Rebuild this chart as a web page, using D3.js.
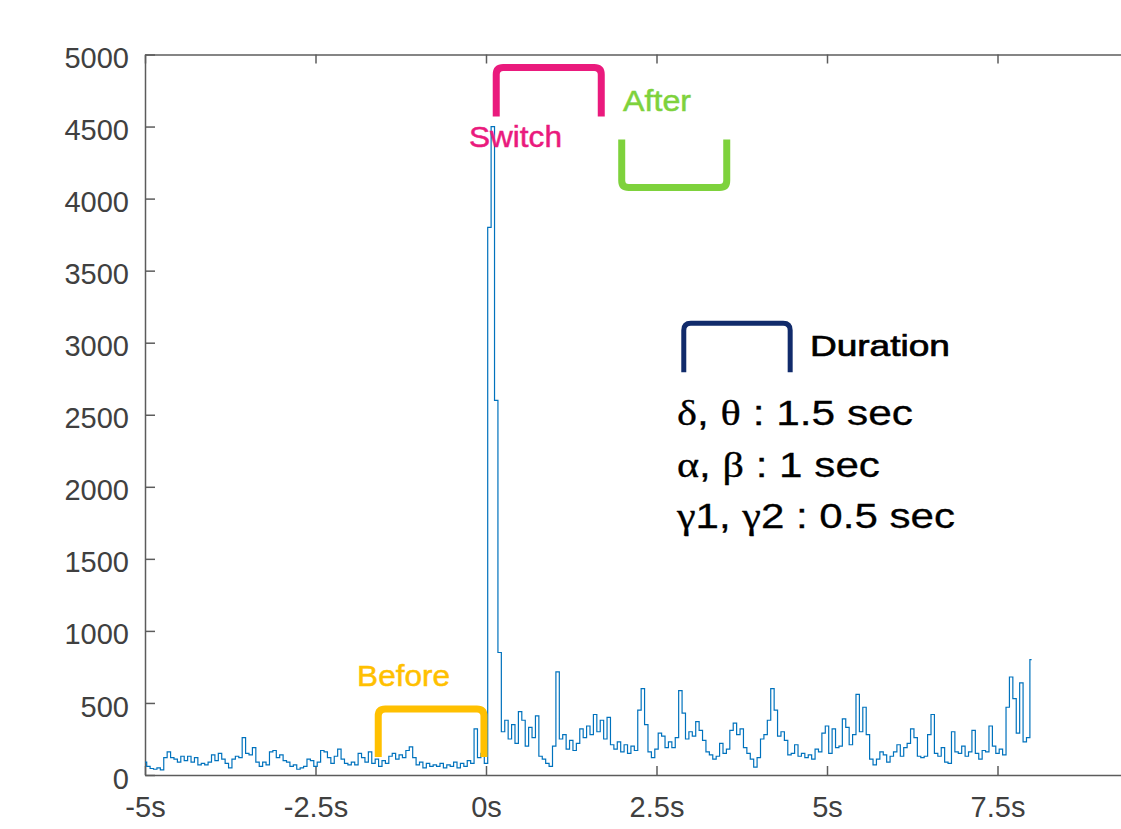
<!DOCTYPE html>
<html>
<head>
<meta charset="utf-8">
<script src="https://cdn.jsdelivr.net/npm/d3@7"></script>
<style>
  html, body { margin: 0; padding: 0; background: #fff; }
  svg { display: block; font-family: "Liberation Sans", Arial, sans-serif; }
</style>
</head>
<body>
<svg id="chart"></svg>
<script>
// sampled signal, one value every 0.05 s starting at -5 s
const sampleStart = -5;
const sampleStep = 0.05;
const signal = [
  // -5 .. -2.5 s
  90, 60, 45, 40, 50, 35, 120, 160, 120, 110, 90, 130, 100, 130, 90, 120, 70, 80, 70, 90,
  140, 100, 150, 110, 80, 50, 110, 130, 120, 260, 150, 140, 190, 90, 60, 90, 70, 160, 170, 120,
  140, 100, 90, 60, 70, 40, 50, 60, 110, 100, 60,
  // -2.45 .. 0 s
  90, 170, 160, 120, 80, 130, 180, 110, 80, 70, 90, 70, 150, 120, 90, 160, 80, 110, 60, 100,
  80, 130, 150, 110, 140, 120, 170, 195, 120, 70, 90, 50, 80, 60, 70, 60, 80, 50, 70, 60,
  90, 50, 80, 60, 100, 80, 320, 120, 150, 80,
  // 0.05 .. 2.5 s
  3800, 4500, 2600, 850, 300, 380, 250, 350, 220, 440, 380, 200, 330, 260, 410, 130, 110, 80, 60, 200,
  715, 250, 280, 180, 240, 170, 220, 320, 260, 340, 280, 420, 300, 380, 250, 400, 210, 180, 230, 160,
  210, 150, 200, 170, 450, 600, 350, 160, 120, 180,
  // 2.55 .. 5 s
  290, 270, 190, 230, 190, 260, 585, 430, 250, 300, 270, 370, 310, 240, 160, 140, 110, 130, 220, 150,
  180, 310, 360, 280, 320, 190, 150, 110, 55, 120, 250, 280, 380, 600, 450, 270, 300, 240, 140, 150,
  210, 130, 150, 120, 140, 110, 180, 160, 290, 340,
  // 5.05 .. 8 s
  150, 320, 190, 200, 390, 330, 210, 280, 560, 300, 470, 280, 110, 70, 110, 160, 140, 90, 130, 160,
  210, 130, 190, 220, 320, 260, 130, 120, 130, 280, 420, 150, 130, 190, 90, 80, 300, 160, 150, 200,
  130, 160, 310, 150, 110, 170, 160, 340, 200, 150, 180, 140, 470, 680, 530, 290, 640, 230, 260, 800
];

const yTicks = [0, 500, 1000, 1500, 2000, 2500, 3000, 3500, 4000, 4500, 5000];
const xTicks = [-5, -2.5, 0, 2.5, 5, 7.5];

// annotation brackets in data units: [t left, t right, value at bar, value at leg ends]
const bracketNames = ["Before", "Switch", "After", "Duration"];
const bracketSpans = [[-1.58, -0.03, 458, 125], [0.15, 1.69, 4910, 4570], [1.99, 3.53, 4077, 4410], [2.9, 4.46, 3135, 2795]];
const bracketColors = ["#FFC000", "#EA1A7D", "#7ED23C", "#112B6B"];
const bracketWidths = [7, 7, 7, 5];

// labels: text, t, value, width in px
const labelTexts = ["Before", "Switch", "After", "Duration"];
const labelPos = [[-1.89, 617], [-0.25, 4355], [2.01, 4605], [4.75, 2906]];
const labelWidths = [93, 93, 68, 140];
const labelColors = ["#FFC000", "#EA1A7D", "#7ED23C", "#000000"];

const durationLines = [
  [["δ", true], [", ", false], ["θ", true], [" : 1.5 sec", false]],
  [["α", true], [", ", false], ["β", true], [" : 1 sec", false]],
  [["γ", true], ["1, ", false], ["γ", true], ["2 : 0.5 sec", false]]
];
const durationBaselines = [2427, 2067, 1713];
const durationWidths = [236, 203, 278];

const width = 1121, height = 829;

const svg = d3.select("#chart").attr("width", width).attr("height", height);

const x = d3.scaleLinear().domain([-5, 10]).range([145, 1168]);
const y = d3.scaleLinear().domain([0, 5000]).range([775, 54.5]);

drawAxes();
drawSignal();
drawBrackets();
drawLabels();

function drawAxes() {
    const axisColor = "#5c5c5c";

    const left = svg.append("g")
        .attr("transform", `translate(${x(-5)},0)`)
        .call(d3.axisLeft(y).tickValues(yTicks).tickSizeInner(-10).tickSizeOuter(0).tickPadding(16)
            .tickFormat(d3.format("d")));
    left.selectAll("text").attr("dy", "0.45em");

    svg.append("g")
        .attr("transform", `translate(0,${y(0)})`)
        .call(d3.axisBottom(x).tickValues(xTicks).tickSizeInner(-9).tickSizeOuter(0).tickPadding(21)
            .tickFormat(d => `${d}s`));

    svg.append("g")
        .attr("transform", `translate(0,${y(5000)})`)
        .call(d3.axisTop(x).tickValues(xTicks).tickSizeInner(-9).tickSizeOuter(0).tickFormat(""));

    svg.selectAll(".domain").attr("stroke", axisColor).attr("stroke-width", 1.5);
    svg.selectAll(".tick line").attr("stroke", axisColor).attr("stroke-width", 1.5);
    svg.selectAll(".tick text")
        .attr("fill", "#404040")
        .style("font-size", "29px")
        .style("font-family", "'Liberation Sans', Arial, sans-serif");
}

function drawSignal() {
    const pts = signal.map((v, i) => [sampleStart + i * sampleStep, v]);
    const line = d3.line()
        .curve(d3.curveStep)
        .x(d => x(d[0]))
        .y(d => y(d[1]));

    svg.append("path")
        .datum(pts)
        .attr("d", line)
        .attr("fill", "none")
        .attr("stroke", "#0072BD")
        .attr("stroke-width", 1.2);
}

function bracketPath(b) {
    const x1 = x(b[0]), x2 = x(b[1]), yb = y(b[2]), ye = y(b[3]);
    const r = 7 * Math.sign(ye - yb);
    return `M${x1},${ye} L${x1},${yb + r} Q${x1},${yb} ${x1 + 7},${yb} ` +
        `L${x2 - 7},${yb} Q${x2},${yb} ${x2},${yb + r} L${x2},${ye}`;
}

function drawBrackets() {
    svg.selectAll(".bracket")
        .data(bracketSpans)
        .enter()
        .append("path")
        .attr("class", "bracket")
        .attr("d", bracketPath)
        .attr("fill", "none")
        .attr("stroke", (d, i) => bracketColors[i])
        .attr("stroke-width", (d, i) => bracketWidths[i]);
}

function drawLabels() {
    svg.selectAll(".label")
        .data(labelTexts)
        .enter()
        .append("text")
        .attr("class", "label")
        .attr("x", (d, i) => x(labelPos[i][0]))
        .attr("y", (d, i) => y(labelPos[i][1]))
        .attr("textLength", (d, i) => labelWidths[i])
        .attr("lengthAdjust", "spacingAndGlyphs")
        .attr("fill", (d, i) => labelColors[i])
        .attr("stroke", (d, i) => labelColors[i])
        .attr("stroke-width", (d, i) => i === 3 ? 0.7 : 0.5)
        .style("font-size", "30px")
        .text(d => d);

    durationLines.forEach((parts, i) => {
        const t = svg.append("text")
            .attr("x", x(2.8))
            .attr("y", y(durationBaselines[i]))
            .attr("textLength", durationWidths[i])
            .attr("lengthAdjust", "spacingAndGlyphs")
            .attr("fill", "#000")
            .attr("stroke", "#000")
            .attr("stroke-width", 0.3)
            .style("font-size", "35px");
        parts.forEach(([s, greek]) => {
            t.append("tspan")
                .style("font-family", greek ? "'Liberation Serif', 'Times New Roman', serif" : null)
                .text(s);
        });
    });
}
</script>
</body>
</html>
